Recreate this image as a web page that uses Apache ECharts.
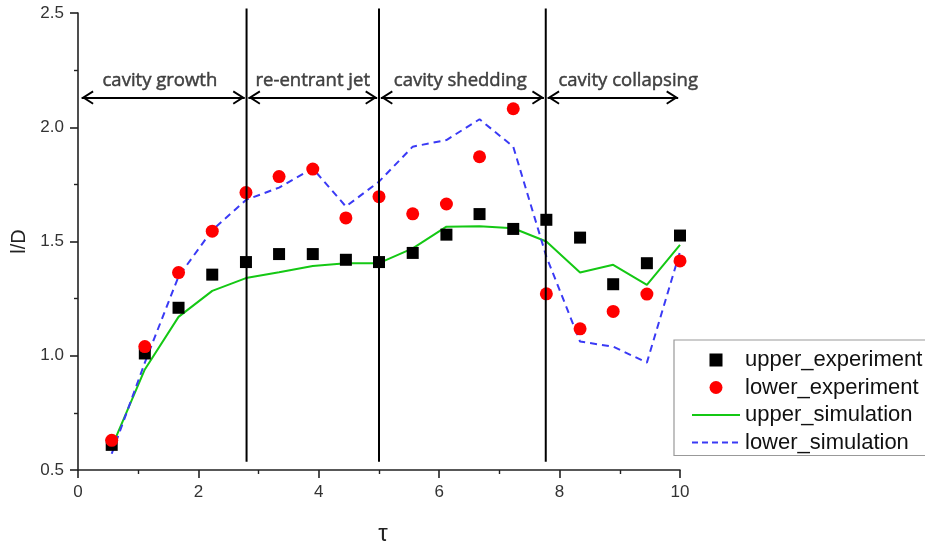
<!DOCTYPE html>
<html>
<head>
<meta charset="utf-8">
<script src="https://cdn.jsdelivr.net/npm/echarts@6/dist/echarts.min.js"></script>
<style>body{margin:0;background:#fff}#chart{width:925px;height:542px}</style>
</head>
<body>
<div id="chart"></div>
<script>
// tau positions of the samples
const tau = [0.56, 1.11, 1.67, 2.23, 2.79, 3.34, 3.9, 4.45, 5.0, 5.56, 6.12, 6.67, 7.23, 7.78, 8.34, 8.89, 9.45, 10.0];

// measured / simulated l/D
const upperExperiment = [0.61, 1.01, 1.21, 1.355, 1.41, 1.445, 1.445, 1.42, 1.41, 1.45, 1.53, 1.62, 1.555, 1.595, 1.517, 1.313, 1.405, 1.526];
const lowerExperiment = [0.63, 1.04, 1.364, 1.545, 1.714, 1.784, 1.817, 1.603, 1.696, 1.621, 1.664, 1.871, 2.081, 1.271, 1.118, 1.194, 1.27, 1.415];
const upperSimulation = [0.60, 0.94, 1.17, 1.284, 1.34, 1.365, 1.393, 1.405, 1.405, 1.47, 1.565, 1.567, 1.558, 1.50, 1.364, 1.398, 1.31, 1.485];
const lowerSimulation = [0.571, 0.97, 1.347, 1.55, 1.682, 1.736, 1.82, 1.653, 1.762, 1.915, 1.944, 2.035, 1.915, 1.434, 1.062, 1.04, 0.97, 1.455];

// phase boundaries and names
const phaseEdges = [0.06, 2.8, 5.0, 7.77, 9.97];
const phaseNames = ['cavity growth', 're-entrant jet', 'cavity shedding', 'cavity collapsing'];
const phaseLabelX = [1.36, 3.9, 6.35, 9.14];
const arrowY = 2.13;
const phaseLabelY = 2.205;
const dividerSpan = [0.536, 2.52];

const xTicks = [0, 2, 4, 6, 8, 10];
const yTicks = [0.5, 1.0, 1.5, 2.0, 2.5];

const pairs = (ys) => tau.map((t, i) => [t, ys[i]]);

// open chevron pointing up with its tip at the centre of the box
// (tiny invisible speck at the top stretches the box)
const chevron = 'path://M7,12 L14,23 L12.4,24 L7,15.6 L1.6,24 L0,23 Z M7,0 L7.01,0 L7,0.01 Z';
// legend icons drawn in a 48x13 box (specks in the corners fix the box)
const boxCorners = 'M0,0 L0.01,0 L0,0.01 Z M48,13 L47.99,13 L48,12.99 Z ';
const legendSquare = 'path://' + boxCorners + 'M17.5,0 L30.5,0 L30.5,13 L17.5,13 Z';
const legendSolid = 'path://' + boxCorners + 'M0,5.5 L48,5.5 L48,7.5 L0,7.5 Z';
const legendDashed = 'path://' + boxCorners +
  'M0,5.5 L6,5.5 L6,7.5 L0,7.5 Z M10,5.5 L16,5.5 L16,7.5 L10,7.5 Z M20,5.5 L26,5.5 L26,7.5 L20,7.5 Z ' +
  'M30,5.5 L36,5.5 L36,7.5 L30,7.5 Z M40,5.5 L46,5.5 L46,7.5 L40,7.5 Z';

const arrows = [];
for (let i = 0; i < phaseEdges.length - 1; i++) {
  const a = i === 0 ? phaseEdges[i] : phaseEdges[i] + 0.03;
  const b = i === phaseEdges.length - 2 ? phaseEdges[i + 1] : phaseEdges[i + 1] - 0.03;
  arrows.push([{ coord: [a, arrowY] }, { coord: [b, arrowY] }]);
}

const dividers = phaseEdges.slice(1, -1).map(x => ({
  name: 'divider', type: 'line', data: [[x, dividerSpan[0]], [x, dividerSpan[1]]],
  symbol: 'none', clip: false, silent: true, z: 5,
  lineStyle: { color: '#000', width: 2 }
}));

const font = '"Liberation Sans", Arial, sans-serif';
const axisCommon = {
  axisLine: { show: true, lineStyle: { color: '#222', width: 1.6 } },
  axisTick: { show: true, length: 8, lineStyle: { color: '#222', width: 1.6 } },
  minorTick: { show: true, splitNumber: 2, length: 4, lineStyle: { color: '#222', width: 1.4 } },
  splitLine: { show: false },
  axisLabel: { color: '#333', fontSize: 17, fontFamily: font, margin: 14 }
};

const option = {
  animation: false,
  grid: { left: 78, right: 245, top: 13, bottom: 72, outerBoundsMode: 'none', containLabel: false },
  xAxis: Object.assign({}, axisCommon, {
    type: 'value', min: xTicks[0], max: xTicks[xTicks.length - 1], interval: 2,
    name: 'τ', nameLocation: 'middle', nameGap: 52,
    nameTextStyle: { color: '#222', fontSize: 24, fontFamily: font, padding: [0, 0, 0, 8] }
  }),
  yAxis: Object.assign({}, axisCommon, {
    type: 'value', min: yTicks[0], max: yTicks[yTicks.length - 1], interval: 0.5,
    axisLabel: Object.assign({}, axisCommon.axisLabel, { formatter: v => v.toFixed(1) }),
    name: 'l/D', nameLocation: 'middle', nameGap: 48, nameRotate: 90,
    nameTextStyle: { color: '#222', fontSize: 20, fontFamily: font }
  }),
  legend: {
    orient: 'vertical', left: 674, top: 340,
    padding: [9, 30, 2, 18], itemGap: 5.5,
    itemWidth: 48, itemHeight: 13,
    borderColor: '#999', borderWidth: 1.2,
    textStyle: { color: '#111', fontSize: 22, fontFamily: font, lineHeight: 22 },
    data: [
      { name: 'upper_experiment', icon: legendSquare },
      { name: 'lower_experiment' },
      { name: 'upper_simulation', icon: legendSolid },
      { name: 'lower_simulation', icon: legendDashed }
    ]
  },
  series: [
    {
      name: 'phases', type: 'scatter', data: phaseLabelX.map((x, i) => [x, phaseLabelY, phaseNames[i]]),
      symbolSize: 0, silent: true,
      label: {
        show: true, position: 'inside', formatter: p => p.value[2],
        color: '#1a1a1a', fontSize: 18.5, fontFamily: '"Open Sans", sans-serif',
        textBorderColor: '#1a1a1a', textBorderWidth: 0.5
      },
      markLine: {
        silent: true, animation: false,
        symbol: [chevron, chevron], symbolSize: [14, 24],
        label: { show: false },
        lineStyle: { color: '#000', width: 2, type: 'solid' },
        data: arrows
      }
    },
    ...dividers,
    {
      name: 'upper_simulation', type: 'line', data: pairs(upperSimulation),
      symbol: 'none', lineStyle: { color: '#14c814', width: 2 }, itemStyle: { color: '#14c814' }, z: 3
    },
    {
      name: 'lower_simulation', type: 'line', data: pairs(lowerSimulation),
      symbol: 'none', lineStyle: { color: '#3a3af5', width: 2, type: [7, 5] }, itemStyle: { color: '#3a3af5' }, z: 3
    },
    {
      name: 'upper_experiment', type: 'scatter', data: pairs(upperExperiment),
      symbol: 'rect', symbolSize: 12, itemStyle: { color: '#000', opacity: 1 }, z: 4
    },
    {
      name: 'lower_experiment', type: 'scatter', data: pairs(lowerExperiment),
      symbol: 'circle', symbolSize: 13, itemStyle: { color: '#ff0000', opacity: 1 }, z: 4
    }
  ]
};

echarts.init(document.getElementById('chart')).setOption(option);
</script>
</body>
</html>
